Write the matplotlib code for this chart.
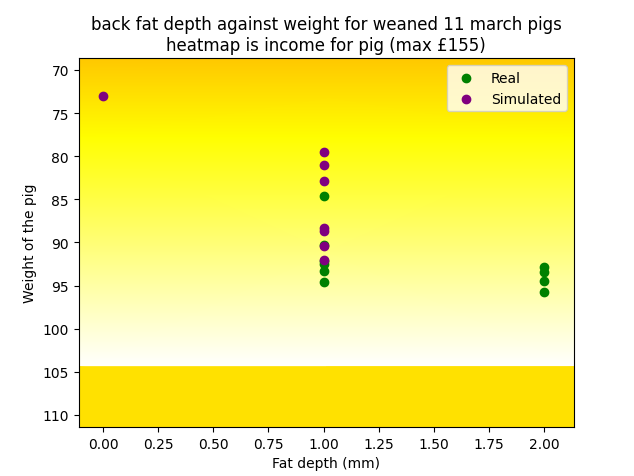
import numpy as np
import matplotlib
matplotlib.use("Agg")
import matplotlib.pyplot as plt

# measured pigs (fat depth mm, weight kg)
real_fat = [1, 1, 1, 1, 1, 1, 2, 2, 2, 2]
real_weight = [84.6, 90.3, 92.5, 93.3, 94.6, 92.2, 92.9, 93.4, 94.5, 95.7]

# simulated pigs
sim_fat = [0, 1, 1, 1, 1, 1, 1, 1]
sim_weight = [73.0, 79.5, 81.0, 82.9, 88.3, 88.7, 90.4, 92.0]

heat_weight = [68.64, 77.8, 104.4, 104.42, 111.39]
heat_income = [155, 117, 0, 138, 138]
heat_fat = [-0.112, 2.136]

fig, ax = plt.subplots(figsize=(6.34, 4.77), dpi=100)
fig.subplots_adjust(left=0.124, right=0.905, bottom=0.103, top=0.876)

X, Y = np.meshgrid(heat_fat, heat_weight)
C = np.tile(np.array(heat_income, dtype=float)[:, None], (1, len(heat_fat)))
ax.pcolormesh(X, Y, C, shading="gouraud", cmap="hot_r", vmin=0, vmax=460)

ax.scatter(real_fat, real_weight, color="green", label="Real")
ax.scatter(sim_fat, sim_weight, color="purple", label="Simulated")

ax.set_xlim(heat_fat[0], heat_fat[-1])
ax.set_ylim(heat_weight[-1], heat_weight[0])
ax.set_xlabel("Fat depth (mm)")
ax.set_ylabel("Weight of the pig")
ax.set_title("back fat depth against weight for weaned 11 march pigs\n"
             "heatmap is income for pig (max £155)")
ax.legend(loc="upper right")

fig.savefig("out.png")
